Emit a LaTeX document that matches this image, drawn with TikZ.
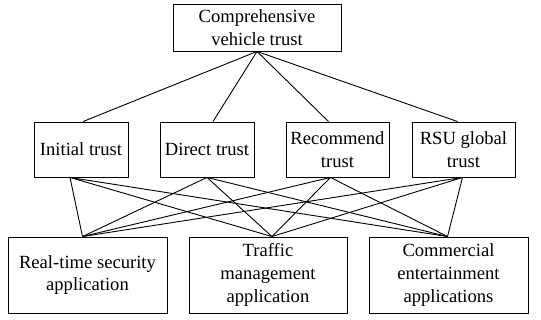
\documentclass[tikz,border=0pt]{standalone}
\usepackage{fontspec}
\setmainfont{Liberation Serif}
\begin{document}
\begin{tikzpicture}[x=1pt,y=-1pt,line width=0.9pt,
        box/.style={draw,align=center,inner sep=0pt,font=\fontsize{18.6}{22.6}\selectfont}]
        \useasboundingbox (0,0) rectangle (541,320);
        \node[box,minimum width=168pt,minimum height=47pt] (cvt) at (257,27.5) {Comprehensive\\vehicle trust};
        \node[box,minimum width=94pt,minimum height=55pt] (init) at (81,149.5) {Initial trust};
        \node[box,minimum width=94pt,minimum height=55pt] (dir) at (207,149.5) {Direct trust};
        \node[box,minimum width=103pt,minimum height=55pt] (rec) at (337.5,149.5) {Recommend\\trust};
        \node[box,minimum width=103pt,minimum height=55pt] (rsu) at (463.5,149.5) {RSU global\\trust};
        \node[box,minimum width=159pt,minimum height=76pt] (rts) at (87.5,275) {Real-time security\\application};
        \node[box,minimum width=158pt,minimum height=76pt] (tma) at (268,275) {Traffic\\management\\application};
        \node[box,minimum width=159pt,minimum height=76pt] (cea) at (448.5,275) {Commercial\\entertainment\\applications};
        % top level
        \draw (cvt.south) -- ([xshift=2pt]init.north);
        \draw (cvt.south) -- ([xshift=6pt]dir.north);
        \draw (cvt.south) -- ([xshift=-9pt]rec.north);
        \draw (cvt.south) -- ([xshift=-6pt]rsu.north);
        % trust to applications
        \draw ([xshift=-11pt]init.south) -- ([xshift=-5pt]rts.north) ([xshift=-11pt]init.south) -- ([xshift=4pt]tma.north) ([xshift=-11pt]init.south) -- ([xshift=-1pt]cea.north);
        \draw (dir.south) -- ([xshift=-5pt]rts.north) (dir.south) -- ([xshift=4pt]tma.north) (dir.south) -- ([xshift=-1pt]cea.north);
        \draw ([xshift=-7pt]rec.south) -- ([xshift=-5pt]rts.north) ([xshift=-7pt]rec.south) -- ([xshift=4pt]tma.north) ([xshift=-7pt]rec.south) -- ([xshift=-1pt]cea.north);
        \draw ([xshift=-1pt]rsu.south) -- ([xshift=-5pt]rts.north) ([xshift=-1pt]rsu.south) -- ([xshift=4pt]tma.north) ([xshift=-1pt]rsu.south) -- ([xshift=-1pt]cea.north);
    \end{tikzpicture}
\end{document}
